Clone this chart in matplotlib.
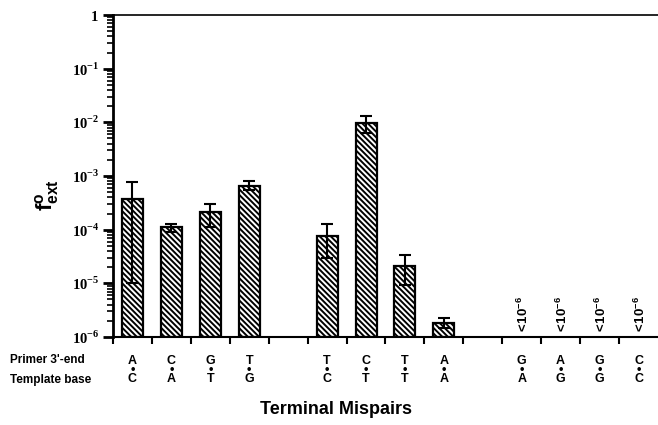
import matplotlib
matplotlib.use("Agg")
import matplotlib.pyplot as plt
import matplotlib.transforms as mtransforms
import numpy as np

plt.rcParams['mathtext.fontset'] = 'custom'
plt.rcParams['mathtext.rm'] = 'Liberation Serif:bold'
plt.rcParams['mathtext.bf'] = 'Liberation Sans:bold'
plt.rcParams['hatch.linewidth'] = 1.4

# mispairs: primer 3'-end base over template base
primer = ['A', 'C', 'G', 'T', 'T', 'C', 'T', 'A', 'G', 'A', 'G', 'C']
template = ['C', 'A', 'T', 'G', 'C', 'T', 'T', 'A', 'A', 'G', 'G', 'C']
# f_ext values (None = below detection, <1e-6)
f_ext = [3.7e-4, 1.1e-4, 2.1e-4, 6.6e-4, 7.6e-5, 9.8e-3, 2.1e-5, 1.85e-6,
         None, None, None, None]
err_top = [7.8e-4, 1.3e-4, 3.0e-4, 8.1e-4, 1.28e-4, 1.3e-2, 3.4e-5, 2.3e-6]
err_bot = [1.0e-5, 9.2e-5, 1.1e-4, 5.5e-4, 3.0e-5, 6.4e-3, 9.5e-6, 1.5e-6]
y_ticks = [1e-6, 1e-5, 1e-4, 1e-3, 1e-2, 1e-1, 1]
y_ticklabels = [r'$10^{-6}$', r'$10^{-5}$', r'$10^{-4}$', r'$10^{-3}$',
                r'$10^{-2}$', r'$10^{-1}$', r'$1$']
floor = 1e-6

fig = plt.figure(figsize=(6.58, 4.25), dpi=100)
ax = fig.add_axes([113 / 658, 88 / 425, 1 - 113 / 658, (410 - 88) / 425])

# groups of four with one empty slot between groups
xpos = np.array([i + i // 4 + 0.5 for i in range(len(primer))])

measured = [i for i, v in enumerate(f_ext) if v is not None]
xm = xpos[measured]
vals = np.array([f_ext[i] for i in measured])
ax.bar(xm, vals - floor, bottom=floor, width=0.54, color='white',
       edgecolor='black', linewidth=1.6, hatch='\\' * 6, zorder=2)
yerr = np.array([vals - np.array(err_bot), np.array(err_top) - vals])
ax.errorbar(xm, vals, yerr=yerr, fmt='none', ecolor='black', elinewidth=1.5,
            capsize=4, capthick=1.5, zorder=3)

for i, v in enumerate(f_ext):
    if v is None:
        ax.text(xpos[i] + 0.05, 1.12e-6, r'$\mathbf{<\!10^{-6}}$',
                rotation=90, ha='center', va='bottom', fontsize=9.5)

ax.set_yscale('log')
ax.set_ylim(floor, 1)
ax.set_xlim(0, 14)
ax.set_yticks(y_ticks)
ax.set_yticklabels(y_ticklabels)
ax.tick_params(axis='y', which='major', direction='out', length=7, width=2,
               labelsize=10.5, pad=3)
ax.tick_params(axis='y', which='minor', direction='out', length=4, width=1.2)
ax.set_xticks(np.arange(0, 14))
ax.set_xticklabels([])
ax.tick_params(axis='x', direction='out', length=5, width=1.5)

ax.spines['right'].set_visible(False)
ax.spines['left'].set_linewidth(2)
ax.spines['bottom'].set_linewidth(1.5)
ax.spines['top'].set_linewidth(1.2)

trans = mtransforms.blended_transform_factory(ax.transData, fig.transFigure)
for i in range(len(primer)):
    ax.text(xpos[i], 1 - 370 / 425, primer[i] + '\n\u2022\n' + template[i],
            transform=trans, ha='center', va='center', fontsize=9,
            fontweight='bold', family='Liberation Sans', linespacing=0.72)

fig.text(10 / 658, 1 - 360 / 425, "Primer 3'-end", ha='left', va='center',
         fontsize=8.5, fontweight='bold', family='Liberation Sans')
fig.text(10 / 658, 1 - 380 / 425, "Template base", ha='left', va='center',
         fontsize=8.5, fontweight='bold', family='Liberation Sans')
fig.text(336 / 658, 1 - 410 / 425, "Terminal Mispairs", ha='center',
         va='center', fontsize=13, fontweight='bold', family='Liberation Sans')
fig.text(47 / 658, 1 - 195 / 425, r'$\mathbf{f^{o}_{ext}}$', rotation=90,
         ha='center', va='center', fontsize=16)

fig.savefig('out.png', dpi=100)
